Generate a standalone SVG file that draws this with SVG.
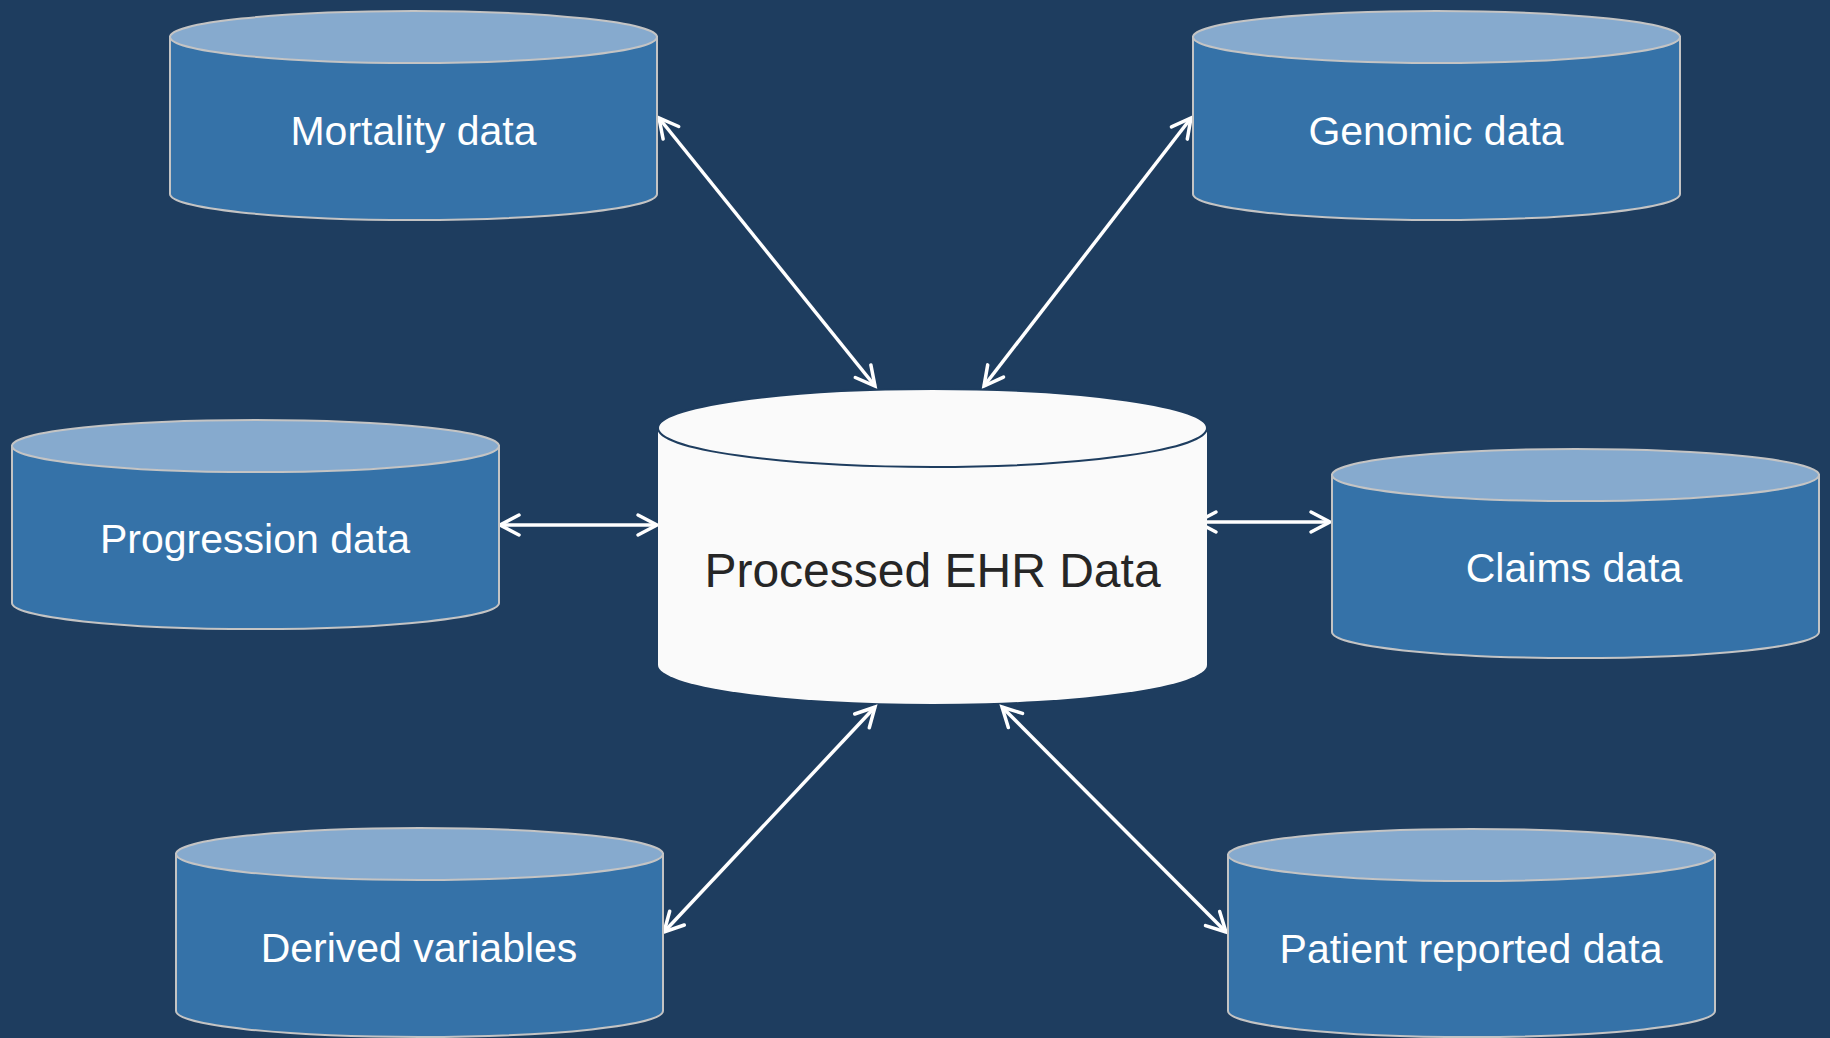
<svg xmlns="http://www.w3.org/2000/svg" width="1830" height="1038" viewBox="0 0 1830 1038">
<style>
.body{fill:#3572A8;stroke:#C4C4C4;stroke-width:2}
.top{fill:#86AACE;stroke:#C4C4C4;stroke-width:2}
.lbl{font-family:"Liberation Sans",Arial,sans-serif;font-size:41px;fill:#FFFFFF;text-anchor:middle}
.main{font-family:"Liberation Sans",Arial,sans-serif;font-size:48px;fill:#262626;text-anchor:middle}
.conn{stroke:#FFFFFF;stroke-width:3.5;fill:none;marker-start:url(#ah);marker-end:url(#ah)}
</style>
<defs>
<marker id="ah" viewBox="-24 -14 28 28" refX="0" refY="0" markerWidth="28" markerHeight="28" markerUnits="userSpaceOnUse" orient="auto-start-reverse">
<path d="M-19,-10 L0,0 L-19,10" fill="none" stroke="#FFFFFF" stroke-width="3.5" stroke-linecap="round" stroke-linejoin="miter"/>
</marker>
</defs>
<rect x="0" y="0" width="1830" height="1038" fill="#1E3D5F"/>

<g id="connectors">
<line class="conn" x1="659" y1="118" x2="875" y2="386"/>
<line class="conn" x1="1191" y1="118" x2="984" y2="386"/>
<line class="conn" x1="500" y1="525" x2="657" y2="525"/>
<line class="conn" x1="1197" y1="522" x2="1330" y2="522"/>
<line class="conn" x1="875" y1="707" x2="664" y2="932"/>
<line class="conn" x1="1002" y1="707" x2="1226" y2="932"/>
</g>

<g id="mortality">
<path class="body" d="M170,37 L170,194 A243.5,26 0 0 0 657,194 L657,37 Z"/>
<ellipse class="top" cx="413.5" cy="37" rx="243.5" ry="26"/>
<text class="lbl" x="413.5" y="145">Mortality data</text>
</g>

<g id="genomic">
<path class="body" d="M1193,37 L1193,194 A243.5,26 0 0 0 1680,194 L1680,37 Z"/>
<ellipse class="top" cx="1436.5" cy="37" rx="243.5" ry="26"/>
<text class="lbl" x="1436" y="145">Genomic data</text>
</g>

<g id="progression">
<path class="body" d="M12,446 L12,603 A243.5,26 0 0 0 499,603 L499,446 Z"/>
<ellipse class="top" cx="255.5" cy="446" rx="243.5" ry="26"/>
<text class="lbl" x="255" y="553">Progression data</text>
</g>

<g id="claims">
<path class="body" d="M1332,475 L1332,632 A243.5,26 0 0 0 1819,632 L1819,475 Z"/>
<ellipse class="top" cx="1575.5" cy="475" rx="243.5" ry="26"/>
<text class="lbl" x="1574" y="582">Claims data</text>
</g>

<g id="derived">
<path class="body" d="M176,854 L176,1011 A243.5,26 0 0 0 663,1011 L663,854 Z"/>
<ellipse class="top" cx="419.5" cy="854" rx="243.5" ry="26"/>
<text class="lbl" x="419" y="962">Derived variables</text>
</g>

<g id="patient">
<path class="body" d="M1228,855 L1228,1011 A243.5,26 0 0 0 1715,1011 L1715,855 Z"/>
<ellipse class="top" cx="1471.5" cy="855" rx="243.5" ry="26"/>
<text class="lbl" x="1471" y="963">Patient reported data</text>
</g>

<g id="processed">
<path d="M658,428 L658,665 A274.5,39 0 0 0 1207,665 L1207,428 Z" fill="#FAFAFA" stroke="none"/>
<ellipse cx="932.5" cy="428" rx="274.5" ry="39" fill="#FAFAFA" stroke="#1E3D5F" stroke-width="2"/>
<text class="main" x="932.5" y="587">Processed EHR Data</text>
</g>
</svg>
